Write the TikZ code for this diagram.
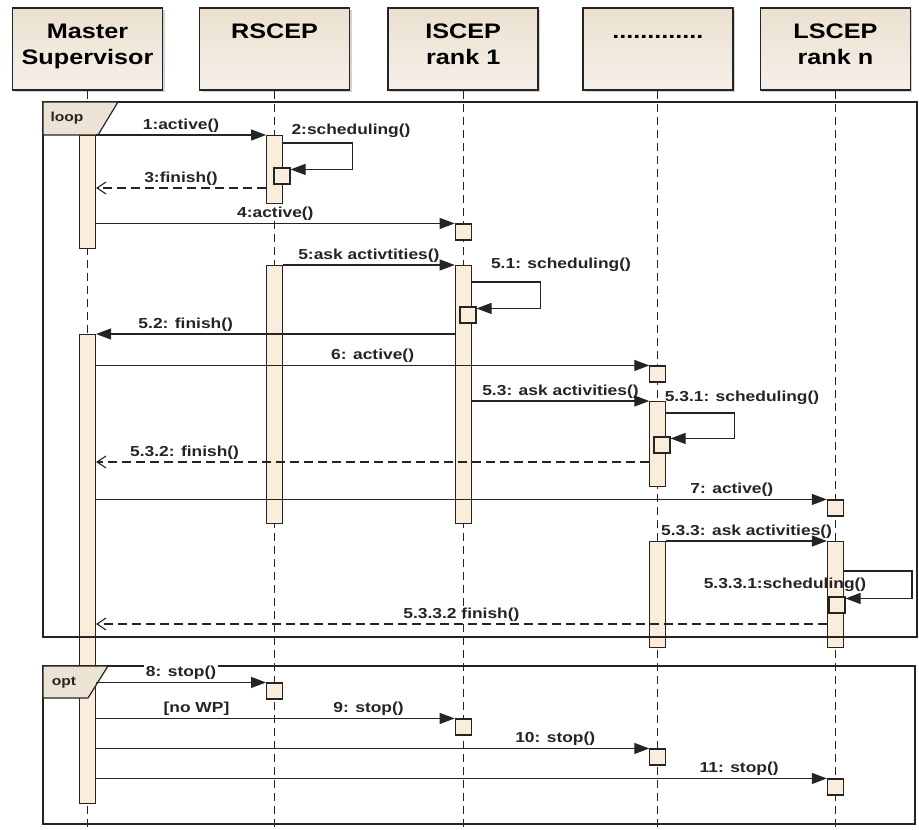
\documentclass[tikz,border=0pt]{standalone}
\usepackage{fontspec}
\setmainfont{Liberation Sans}[FakeStretch=1.2]
\usetikzlibrary{arrows.meta,positioning,shadows}
\definecolor{ink}{HTML}{242424}
\definecolor{headtop}{HTML}{EBE0D0}
\definecolor{headbot}{HTML}{F6F0E9}
\definecolor{barfill}{HTML}{FBEDDC}
\definecolor{tabfill}{HTML}{EDE3D5}
\tikzset{%
    >={Triangle[length=15pt,width=11pt]},
    head/.style={draw=ink,line width=1.6pt,top color=headtop,bottom color=headbot,
        minimum width=150pt,minimum height=82pt,align=center,
        text height=44pt,text depth=13pt,
        font=\fontsize{21}{26}\selectfont\bfseries,
        drop shadow={shadow xshift=2pt,shadow yshift=-2pt,opacity=.35}},
    bar/.style={draw=ink,line width=1.1pt,fill=barfill,minimum width=16pt,inner sep=0pt,anchor=north},
    occ/.style={draw=ink,line width=1.1pt,fill=barfill,minimum size=16pt,inner sep=0pt},
    life/.style={draw=ink,line width=1.1pt,dash pattern=on 8pt off 5pt},
    call/.style={->,draw=ink,line width=1.1pt},
    ret/.style={-{Straight Barb[length=9pt,width=12pt]},draw=ink,line width=1.1pt,dash pattern=on 9pt off 5pt},
    lbl/.style={font=\fontsize{14.5}{16}\selectfont\bfseries,inner sep=2pt,text=ink},
    tablbl/.style={font=\fontsize{13}{14}\selectfont\bfseries,inner sep=1pt,text=ink},
    frame/.style={draw=ink,line width=1.2pt},
    tab/.style={draw=ink,line width=1.2pt,fill=tabfill}
}

\begin{document}
\begin{tikzpicture}[x=1pt,y=-1pt]
    \useasboundingbox (0,0) rectangle (919,830);
    \coordinate (bot) at (0,830);
    %%%%% lifelines
    \node[head] (ms) at (87.5,49) {Master\\Supervisor};
    \node[head,right=35.5pt of ms] (rs) {RSCEP\\\strut};
    \node[head,right=37pt of rs] (is) {ISCEP\\rank 1};
    \node[head,right=43pt of is] (dt) {.............\\\strut};
    \node[head,right=26pt of dt] (ls) {LSCEP\\rank n};
    \draw[life] (ms.south) -- (ms.south |- bot);
    \draw[life] (rs.south) -- (rs.south |- bot);
    \draw[life] (is.south) -- (is.south |- bot);
    \draw[life] (dt.south) -- (dt.south |- bot);
    \draw[life] (ls.south) -- (ls.south |- bot);
    %%%%% activations
    \node[bar,minimum height=113pt] (msA) at (ms.south |- 0,135) {};
    \node[bar,minimum height=469pt] (msB) at (ms.south |- 0,334) {};
    \node[bar,minimum height=68pt] (rsA) at (rs.south |- 0,135) {};
    \node[bar,minimum height=258pt] (rsB) at (rs.south |- 0,265) {};
    \node[bar,minimum height=258pt] (isB) at (is.south |- 0,265) {};
    \node[bar,minimum height=85pt] (dtA) at (dt.south |- 0,401) {};
    \node[bar,minimum height=106pt] (dtB) at (dt.south |- 0,541) {};
    \node[bar,minimum height=106pt] (lsB) at (ls.south |- 0,541) {};
    \node[occ] (rsO1) at (282,176) {};
    \node[occ] (isO1) at (is.south |- 0,232) {};
    \node[occ] (isO2) at (468,315) {};
    \node[occ] (dtO1) at (dt.south |- 0,374) {};
    \node[occ] (dtO2) at (662,445) {};
    \node[occ] (lsO1) at (ls.south |- 0,508) {};
    \node[occ] (lsO2) at (837,605) {};
    \node[occ] (rsO2) at (rs.south |- 0,691) {};
    \node[occ] (isO3) at (is.south |- 0,727) {};
    \node[occ] (dtO3) at (dt.south |- 0,757) {};
    \node[occ] (lsO3) at (ls.south |- 0,787) {};
    %%%%% fragments
    \draw[frame] (43,102) rectangle (917,637);
    \draw[tab] (43,102) -- (118,102) -- (98,135) -- (43,135) -- cycle;
    \node[tablbl] (loop) at (67,118) {loop};
    \draw[frame] (43,666) rectangle (915,824);
    \draw[tab] (43,666) -- (108,666) -- (88,698) -- (43,698) -- cycle;
    \node[tablbl] (opt) at (64,683) {opt};
    %%%%% messages
    \draw[call] (msA.east |- rsA.north) -- node[lbl,above] (m1) {1:active()} (rsA.north west);
    \draw[call] (rsA.east |- 0,143) -- ++(69,0) |- ([yshift=-2pt]rsO1.north east);
    \node[lbl] (m2) at (351,131) {2:scheduling()};
    \draw[ret] (rsA.west |- 0,188) -- node[lbl,above] (m3) {3:finish()} (msA.east |- 0,188);
    \draw[call] (msA.east |- isO1.north) -- node[lbl,above] (m4) {4:active()} (isO1.north west);
    \draw[call] (rsB.east |- isB.north) -- node[lbl,above] (m5) {5:ask activtities()} (isB.north west);
    \draw[call] (isB.east |- 0,282) -- ++(69,0) |- ([yshift=-2pt]isO2.north east);
    \node[lbl] (m51) at (561,265) {5.1: scheduling()};
    \draw[call] (isB.west |- msB.north) -- node[lbl,above,pos=.75] (m52) {5.2: finish()} (msB.north east);
    \draw[call] (msB.east |- dtO1.north) -- node[lbl,above] (m6) {6: active()} (dtO1.north west);
    \draw[call] (isB.east |- dtA.north) -- node[lbl,above] (m53) {5.3: ask activities()} (dtA.north west);
    \draw[call] (dtA.east |- 0,413) -- ++(68,0) |- ([yshift=-2pt]dtO2.north east);
    \node[lbl] (m531) at (742,398) {5.3.1: scheduling()};
    \draw[ret] (dtA.west |- 0,462) -- node[lbl,above,pos=.84] (m532) {5.3.2: finish()} (msB.east |- 0,462);
    \draw[call] (msB.east |- lsO1.north) -- node[lbl,above,pos=.87] (m7) {7: active()} (lsO1.north west);
    \draw[call] (dtB.east |- lsB.north) -- node[lbl,above] (m533) {5.3.3: ask activities()} (lsB.north west);
    \draw[call] (lsB.east |- 0,571) -- ++(68,0) |- ([yshift=-2pt]lsO2.north east);
    \node[lbl] (m5331) at (785,585) {5.3.3.1:scheduling()};
    \draw[ret] (lsB.west |- 0,624) -- node[lbl,above] (m5332) {5.3.3.2 finish()} (msB.east |- 0,624);
    %%%%% opt
    \draw[call] (msB.east |- rsO2.north) -- node[lbl,above,fill=white,inner ysep=1pt,yshift=1pt] (m8) {8: stop()} (rsO2.north west);
    \draw[call] (msB.east |- isO3.north) -- node[lbl,above,pos=.28] (g9) {[no WP]}
        node[lbl,above,pos=.76] (m9) {9: stop()} (isO3.north west);
    \draw[call] (msB.east |- dtO3.north) -- node[lbl,above,pos=.83] (m10) {10: stop()} (dtO3.north west);
    \draw[call] (msB.east |- lsO3.north) -- node[lbl,above,pos=.88] (m11) {11: stop()} (lsO3.north west);
\end{tikzpicture}
\end{document}
